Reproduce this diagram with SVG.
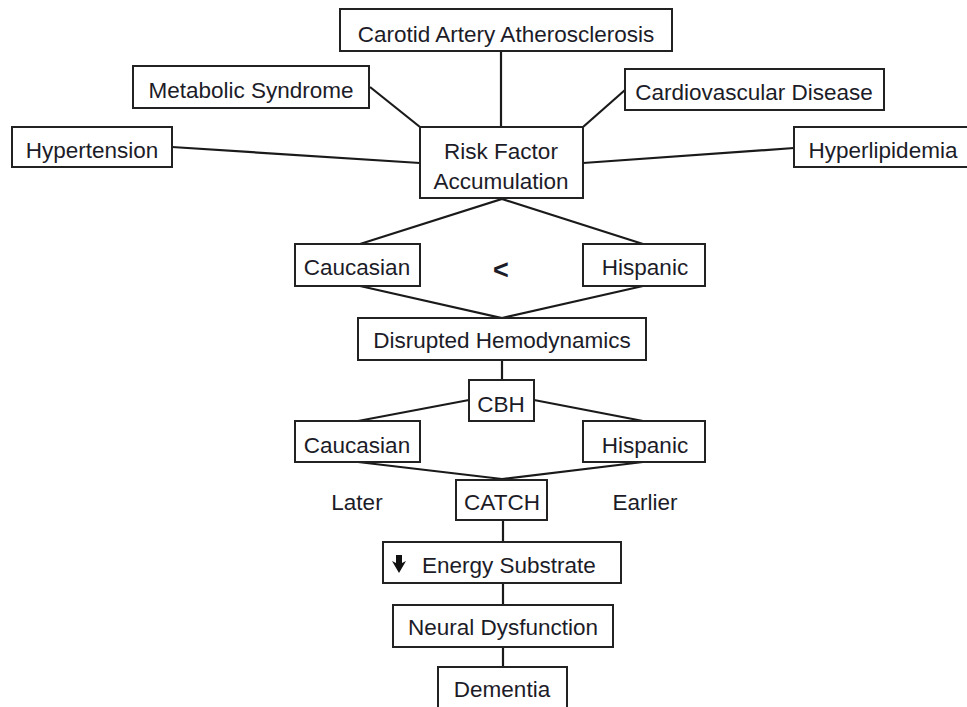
<svg xmlns="http://www.w3.org/2000/svg" width="967" height="707" viewBox="0 0 967 707">
<style>
  .box { fill: #ffffff; stroke: #222222; stroke-width: 2; }
  .lbl { font-family: "Liberation Sans", Arial, sans-serif; font-size: 22.5px; fill: #1c1c28; text-anchor: middle; }
  .conn { stroke: #1a1a1a; stroke-width: 2.2; fill: none; }
</style>
<rect width="967" height="707" fill="#ffffff"/>
<g id="connectors">
  <line class="conn" x1="501" y1="51" x2="501" y2="127"/>
  <line class="conn" x1="370" y1="87" x2="420" y2="127"/>
  <line class="conn" x1="172" y1="147" x2="420" y2="163"/>
  <line class="conn" x1="625" y1="90" x2="583" y2="127"/>
  <line class="conn" x1="794" y1="148" x2="583" y2="163"/>
  <polyline class="conn" points="360,244 502,199 643,244"/>
  <polyline class="conn" points="360,286 502,318 643,286"/>
  <line class="conn" x1="502" y1="360" x2="502" y2="380"/>
  <line class="conn" x1="469" y1="400" x2="358" y2="421"/>
  <line class="conn" x1="534" y1="400" x2="643" y2="421"/>
  <polyline class="conn" points="358,462 502,479 643,462"/>
  <line class="conn" x1="503" y1="520" x2="503" y2="542"/>
  <line class="conn" x1="503" y1="583" x2="503" y2="605"/>
  <line class="conn" x1="503" y1="647" x2="503" y2="667"/>
</g>
<g id="carotid">
  <rect class="box" x="340" y="9" width="332" height="42"/>
  <text class="lbl" x="506" y="42">Carotid Artery Atherosclerosis</text>
</g>
<g id="metabolic">
  <rect class="box" x="133" y="66" width="236" height="42"/>
  <text class="lbl" x="251" y="98">Metabolic Syndrome</text>
</g>
<g id="cardiovascular">
  <rect class="box" x="625" y="69" width="259" height="41"/>
  <text class="lbl" x="754" y="100">Cardiovascular Disease</text>
</g>
<g id="hypertension">
  <rect class="box" x="12" y="127" width="160" height="40"/>
  <text class="lbl" x="92" y="158">Hypertension</text>
</g>
<g id="hyperlipidemia">
  <rect class="box" x="794" y="127" width="180" height="40"/>
  <text class="lbl" x="883" y="158">Hyperlipidemia</text>
</g>
<g id="risk">
  <rect class="box" x="420" y="127" width="163" height="71"/>
  <text class="lbl" x="501" y="159">Risk Factor</text>
  <text class="lbl" x="501" y="189">Accumulation</text>
</g>
<g id="caucasian1">
  <rect class="box" x="295" y="244" width="125" height="42"/>
  <text class="lbl" x="357" y="275">Caucasian</text>
</g>
<g id="lessthan">
  <text class="lbl" x="501" y="279" style="font-weight:bold;font-size:27px">&lt;</text>
</g>
<g id="hispanic1">
  <rect class="box" x="583" y="244" width="122" height="42"/>
  <text class="lbl" x="645" y="275">Hispanic</text>
</g>
<g id="disrupted">
  <rect class="box" x="358" y="318" width="288" height="42"/>
  <text class="lbl" x="502" y="348">Disrupted Hemodynamics</text>
</g>
<g id="cbh">
  <rect class="box" x="469" y="380" width="65" height="41"/>
  <text class="lbl" x="501" y="412">CBH</text>
</g>
<g id="caucasian2">
  <rect class="box" x="295" y="421" width="125" height="41"/>
  <text class="lbl" x="357" y="453">Caucasian</text>
</g>
<g id="hispanic2">
  <rect class="box" x="583" y="421" width="122" height="41"/>
  <text class="lbl" x="645" y="453">Hispanic</text>
</g>
<g id="later">
  <text class="lbl" x="357" y="510">Later</text>
</g>
<g id="catch">
  <rect class="box" x="456" y="480" width="91" height="40"/>
  <text class="lbl" x="502" y="510">CATCH</text>
</g>
<g id="earlier">
  <text class="lbl" x="645" y="510">Earlier</text>
</g>
<g id="energy">
  <rect class="box" x="383" y="542" width="238" height="41"/>
  <polygon points="396,555 402,555 402,563 406,561 399,573 392,561 396,563" fill="#111111"/>
  <text class="lbl" x="422" y="573" style="text-anchor:start">Energy Substrate</text>
</g>
<g id="neural">
  <rect class="box" x="393" y="605" width="220" height="42"/>
  <text class="lbl" x="503" y="635">Neural Dysfunction</text>
</g>
<g id="dementia">
  <rect class="box" x="438" y="667" width="129" height="45"/>
  <text class="lbl" x="502" y="697">Dementia</text>
</g>
</svg>
